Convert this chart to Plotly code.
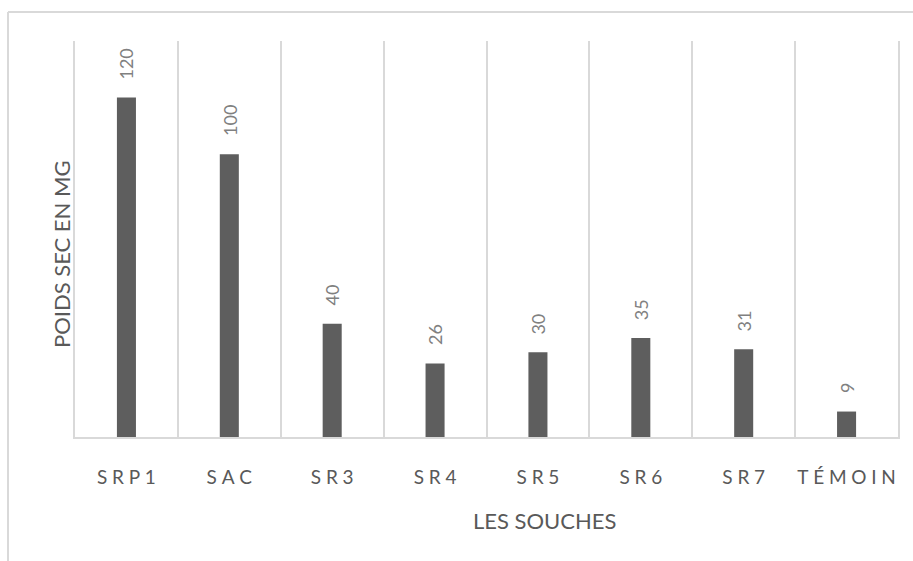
import plotly.graph_objects as go

# Dry weight per strain
souches = ["SRP1", "SAC", "SR3", "SR4", "SR5", "SR6", "SR7", "TÉMOIN"]
poids_sec = [120, 100, 40, 26, 30, 35, 31, 9]

# Letter-spaced tick labels
SP = "\u2005"
tick_labels = [SP.join(list(s)) for s in souches]

BAR = "#5e5e5e"
GRID = "#d9d9d9"
TXT = "#595959"
FONT = "Lato"

fig = go.Figure()
fig.add_trace(go.Bar(
    x=souches,
    y=poids_sec,
    width=0.185,
    marker=dict(color=BAR, line=dict(width=0)),
    hoverinfo="skip",
))

# Value labels, rotated, above each bar
for s, v in zip(souches, poids_sec):
    fig.add_annotation(
        x=s, y=v, xref="x", yref="y",
        text=str(v), showarrow=False, textangle=-90,
        xanchor="center", yanchor="bottom", yshift=16,
        font=dict(family=FONT, size=18, color="#808080"),
    )

# Axis titles
fig.add_annotation(
    x=0.570, y=-0.2096, xref="paper", yref="paper",
    text="LES SOUCHES", showarrow=False,
    xanchor="center", yanchor="middle",
    font=dict(family=FONT, size=22, color=TXT),
)
fig.add_annotation(
    x=-0.017, y=0.462, xref="paper", yref="paper",
    text="POIDS SEC EN MG", showarrow=False, textangle=-90,
    xanchor="center", yanchor="middle",
    font=dict(family=FONT, size=22, color=TXT),
)

# Chart frame (top and left edges)
fig.add_shape(type="line", xref="paper", yref="paper",
              x0=-0.0814, x1=1.05, y0=1.0732, y1=1.0732,
              line=dict(color=GRID, width=2))
fig.add_shape(type="line", xref="paper", yref="paper",
              x0=-0.0814, x1=-0.0814, y0=1.0732, y1=-0.33,
              line=dict(color=GRID, width=2))

fig.update_layout(
    width=913, height=561,
    margin=dict(l=75, r=15, t=41, b=124, autoexpand=False),
    paper_bgcolor="white", plot_bgcolor="white",
    showlegend=False,
    xaxis=dict(
        type="category",
        tickvals=souches, ticktext=tick_labels,
        tickson="boundaries",
        showgrid=True, gridcolor=GRID, gridwidth=1.5,
        showline=True, linecolor=GRID, linewidth=2,
        ticks="", ticklabelstandoff=22, tickangle=0,
        tickfont=dict(family=FONT, size=19, color=TXT),
        range=[-0.5, 7.5], fixedrange=True, automargin=False,
    ),
    yaxis=dict(
        range=[0, 140],
        showgrid=False, zeroline=False,
        showticklabels=False, ticks="",
        showline=True, mirror=True, linecolor=GRID, linewidth=1.5,
        fixedrange=True, automargin=False,
    ),
)

fig.write_html("out.html")
